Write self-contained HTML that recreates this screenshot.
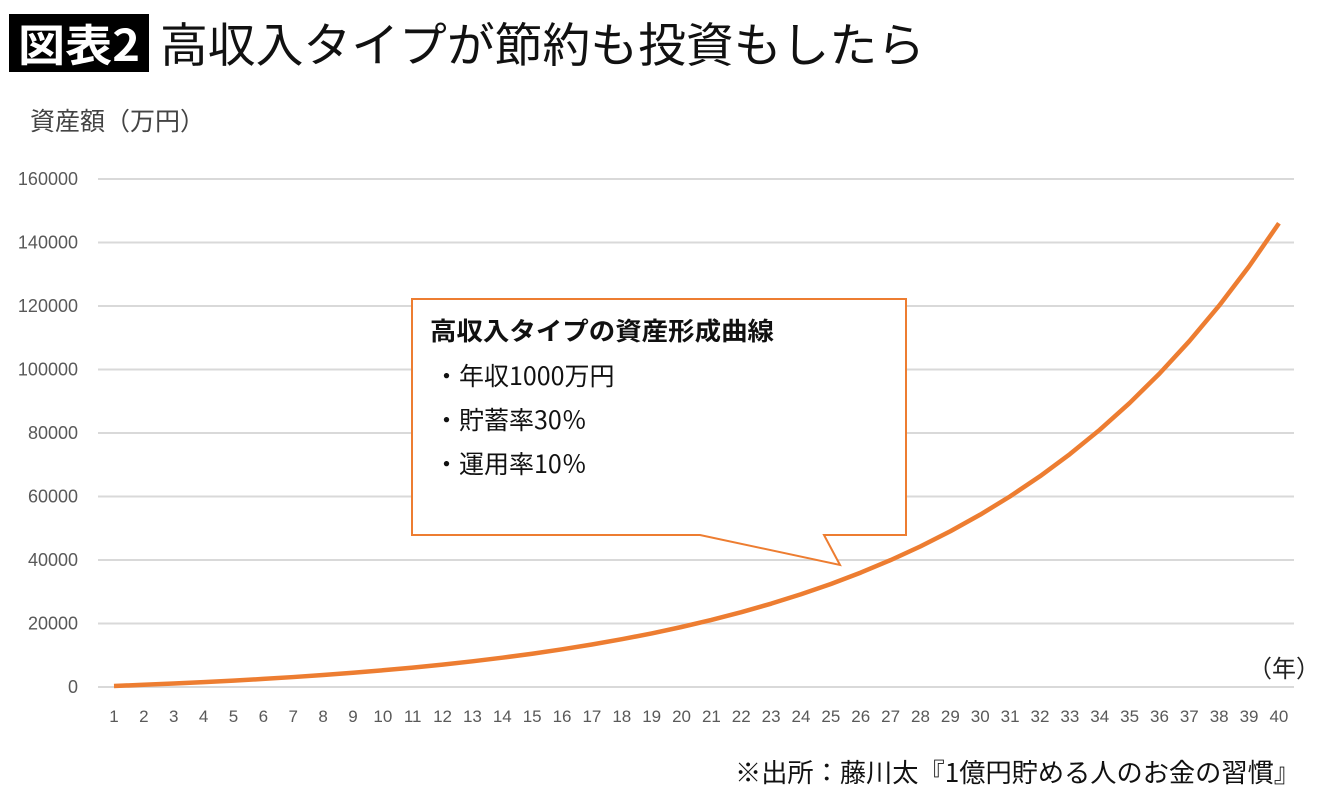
<!DOCTYPE html>
<html><head><meta charset="utf-8"><style>
body{margin:0;background:#fff;width:1340px;height:796px;overflow:hidden;font-family:"Liberation Sans","Noto Sans CJK JP",sans-serif}
</style></head><body>
<svg width="1340" height="796" viewBox="0 0 1340 796" xmlns="http://www.w3.org/2000/svg" font-family="'Liberation Sans','Noto Sans CJK JP',sans-serif">
<rect x="9" y="14" width="140" height="58" fill="#000"/>
<text x="18" y="61" font-size="44" fill="#fff" font-weight="bold" font-family="'Noto Sans CJK JP',sans-serif" textLength="122" lengthAdjust="spacingAndGlyphs">図表2</text>
<text x="160" y="62" font-size="47" fill="#111" font-family="'Noto Sans CJK JP',sans-serif" textLength="765" lengthAdjust="spacingAndGlyphs">高収入タイプが節約も投資もしたら</text>
<text x="30" y="130" font-size="25" fill="#444" font-family="'Noto Sans CJK JP',sans-serif">資産額（万円）</text>
<g stroke="#d9d9d9" stroke-width="2">
<line x1="98" x2="1294" y1="179" y2="179"/><line x1="98" x2="1294" y1="242.5" y2="242.5"/><line x1="98" x2="1294" y1="306" y2="306"/><line x1="98" x2="1294" y1="369.5" y2="369.5"/><line x1="98" x2="1294" y1="433" y2="433"/><line x1="98" x2="1294" y1="496.5" y2="496.5"/><line x1="98" x2="1294" y1="560" y2="560"/><line x1="98" x2="1294" y1="623.5" y2="623.5"/><line x1="98" x2="1294" y1="687" y2="687"/>
</g>
<g font-size="18" fill="#595959" text-anchor="end">
<text x="78" y="185">160000</text><text x="78" y="248.5">140000</text><text x="78" y="312">120000</text><text x="78" y="375.5">100000</text><text x="78" y="439">80000</text><text x="78" y="502.5">60000</text><text x="78" y="566">40000</text><text x="78" y="629.5">20000</text><text x="78" y="693">0</text>
</g>
<g font-size="17" fill="#595959" text-anchor="middle">
<text x="114" y="722">1</text><text x="143.87" y="722">2</text><text x="173.74" y="722">3</text><text x="203.61" y="722">4</text><text x="233.48" y="722">5</text><text x="263.35" y="722">6</text><text x="293.22" y="722">7</text><text x="323.09" y="722">8</text><text x="352.96" y="722">9</text><text x="382.83" y="722">10</text><text x="412.7" y="722">11</text><text x="442.57" y="722">12</text><text x="472.44" y="722">13</text><text x="502.31" y="722">14</text><text x="532.18" y="722">15</text><text x="562.05" y="722">16</text><text x="591.92" y="722">17</text><text x="621.79" y="722">18</text><text x="651.66" y="722">19</text><text x="681.53" y="722">20</text><text x="711.4" y="722">21</text><text x="741.27" y="722">22</text><text x="771.14" y="722">23</text><text x="801.01" y="722">24</text><text x="830.88" y="722">25</text><text x="860.75" y="722">26</text><text x="890.62" y="722">27</text><text x="920.49" y="722">28</text><text x="950.36" y="722">29</text><text x="980.23" y="722">30</text><text x="1010.1" y="722">31</text><text x="1039.97" y="722">32</text><text x="1069.84" y="722">33</text><text x="1099.71" y="722">34</text><text x="1129.58" y="722">35</text><text x="1159.45" y="722">36</text><text x="1189.32" y="722">37</text><text x="1219.19" y="722">38</text><text x="1249.06" y="722">39</text><text x="1278.93" y="722">40</text>
</g>
<text x="1248" y="677" font-size="24" fill="#222" font-family="'Noto Sans CJK JP',sans-serif">（年）</text>
<polyline fill="none" stroke="#ED7D31" stroke-width="4.5" stroke-linejoin="round" points="114,685.95 143.87,684.8 173.74,683.53 203.61,682.14 233.48,680.6 263.35,678.92 293.22,677.06 323.09,675.02 352.96,672.77 382.83,670.3 412.7,667.58 442.57,664.59 472.44,661.3 502.31,657.69 532.18,653.71 562.05,649.33 591.92,644.52 621.79,639.22 651.66,633.4 681.53,626.99 711.4,619.94 741.27,612.18 771.14,603.66 801.01,594.28 830.88,583.96 860.75,572.6 890.62,560.11 920.49,546.38 950.36,531.27 980.23,514.65 1010.1,496.37 1039.97,476.26 1069.84,454.14 1099.71,429.81 1129.58,403.04 1159.45,373.59 1189.32,341.21 1219.19,305.58 1249.06,266.39 1278.93,223.27"/>
<path d="M412,299 H906 V535 H824 L840,565 L700,535 H412 Z" fill="#fff" stroke="#ED7D31" stroke-width="2"/>
<g font-family="'Noto Sans CJK JP',sans-serif" fill="#111">
<text x="430" y="340" font-size="25" font-weight="bold" textLength="344" lengthAdjust="spacingAndGlyphs">高収入タイプの資産形成曲線</text>
<text x="434" y="385" font-size="25">・年収1000万円</text>
<text x="434" y="429" font-size="25">・貯蓄率30％</text>
<text x="434" y="473" font-size="25">・運用率10％</text>
</g>
<text x="1300" y="782" font-size="26" fill="#111" text-anchor="end" font-family="'Noto Sans CJK JP',sans-serif" textLength="565" lengthAdjust="spacingAndGlyphs">※出所：藤川太『1億円貯める人のお金の習慣』</text>
</svg>
</body></html>
